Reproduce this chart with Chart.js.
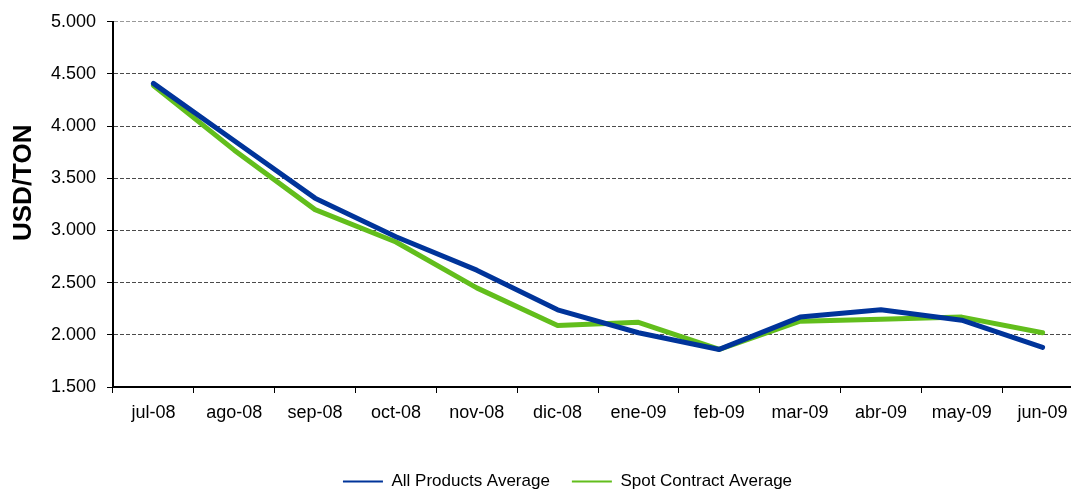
<!DOCTYPE html>
<html>
<head>
<meta charset="utf-8">
<script src="https://cdn.jsdelivr.net/npm/chart.js@4.4.0/dist/chart.umd.min.js"></script>
<style>
  html, body { margin: 0; padding: 0; background: #fff; overflow: hidden; }
  #wrap { width: 1134px; height: 500px; }
</style>
</head>
<body>
<div id="wrap"><canvas id="chart" width="1134" height="500"></canvas></div>
<script>
// Datos
const months = ['jul-08', 'ago-08', 'sep-08', 'oct-08', 'nov-08', 'dic-08',
                'ene-09', 'feb-09', 'mar-09', 'abr-09', 'may-09', 'jun-09'];
const allProducts = [4410, 3860, 3310, 2940, 2620, 2240, 2020, 1860, 2170, 2240, 2140, 1880];
const spotContract = [4390, 3770, 3200, 2890, 2450, 2090, 2120, 1860, 2130, 2150, 2170, 2020];
const yTicks = [1500, 2000, 2500, 3000, 3500, 4000, 4500, 5000];

const BLUE = '#00349A';
const GREEN = '#62BE1C';
const FONT = 'Liberation Sans, Arial, sans-serif';

// 5000 -> "5.000"
function fmt(v) {
  return String(v).replace(/\B(?=(\d{3})+(?!\d))/g, '.');
}

function lineDataset(label, data, color) {
  return {
    label,
    data,
    borderColor: color,
    backgroundColor: color,
    borderWidth: 5,
    pointRadius: 0,
    tension: 0,
    borderCapStyle: 'round',
    borderJoinStyle: 'round'
  };
}

// la leyenda se centra sobre todo el lienzo, no sólo sobre el área útil
const legendShift = {
  id: 'legendShift',
  afterLayout(chart) {
    chart.legend.right += 52;
  }
};

new Chart(document.getElementById('chart'), {
  type: 'line',
  data: {
    labels: months,
    datasets: [
      lineDataset('All Products Average', allProducts, BLUE),
      lineDataset('Spot Contract Average', spotContract, GREEN)
    ]
  },
  options: {
    responsive: false,
    animation: false,
    layout: { padding: { top: 21, right: 51, left: 0, bottom: 0 } },
    plugins: {
      tooltip: { enabled: false },
      legend: {
        position: 'bottom',
        labels: {
          boxWidth: 40,
          boxHeight: 2,
          padding: 22,
          color: '#000',
          font: { family: FONT, size: 17 },
          generateLabels(chart) {
            return chart.data.datasets.map((ds, i) => ({
              text: ds.label,
              fillStyle: ds.borderColor,
              strokeStyle: ds.borderColor,
              lineWidth: 0,
              hidden: false,
              datasetIndex: i
            }));
          }
        }
      }
    },
    scales: {
      x: {
        offset: true,
        afterFit: scale => { scale.height = 64; },
        border: { color: '#000', width: 2 },
        grid: {
          offset: true,
          drawOnChartArea: false,
          tickLength: 6,
          color: '#000',
          lineWidth: 1
        },
        ticks: {
          padding: 9,
          color: '#000',
          maxRotation: 0,
          font: { family: FONT, size: 18 }
        }
      },
      y: {
        min: 1500,
        max: 5000,
        afterFit: scale => { scale.width = 113; },
        afterBuildTicks: scale => { scale.ticks = yTicks.map(v => ({ value: v })); },
        border: { color: '#000', width: 2, dash: [4, 2] },
        grid: {
          color: ctx => (ctx.tick && ctx.tick.value === 5000) ? '#999' : '#4a4a4a',
          lineWidth: 1,
          tickLength: 6,
          tickColor: '#000',
          tickBorderDash: [1, 0]
        },
        ticks: {
          padding: 11,
          color: '#000',
          font: { family: FONT, size: 18 },
          callback: v => fmt(v)
        },
        title: {
          display: true,
          text: '\u00A0\u00A0\u00A0\u00A0\u00A0\u00A0USD/TON',
          color: '#000',
          padding: { top: 8, bottom: 0 },
          font: { family: FONT, size: 26, weight: 'bold' }
        }
      }
    }
  },
  plugins: [legendShift]
});
</script>
</body>
</html>
